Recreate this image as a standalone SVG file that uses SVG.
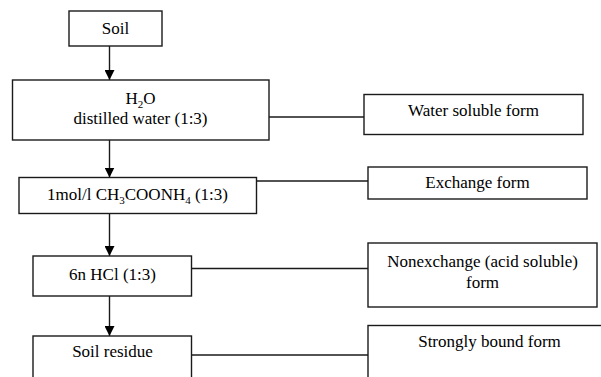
<svg xmlns="http://www.w3.org/2000/svg" width="601" height="377" viewBox="0 0 601 377">
<defs>
<marker id="ah" markerWidth="10" markerHeight="10" refX="10" refY="5" orient="auto" markerUnits="userSpaceOnUse">
<path d="M0,0 L10,5 L0,10 Z" fill="#000"/>
</marker>
<style>
rect{fill:#fff;stroke:#1a1a1a;stroke-width:1.4}
text{font-size:17px;fill:#000;text-anchor:middle}
.c line{stroke:#1a1a1a;stroke-width:1.4}
</style>
</defs>
<rect x="0" y="0" width="601" height="377" style="fill:#fff;stroke:none"/>
<g class="c" id="connectors">
<line x1="109.5" y1="46" x2="109.5" y2="80" marker-end="url(#ah)"/>
<line x1="109.5" y1="140" x2="109.5" y2="177.5" marker-end="url(#ah)"/>
<line x1="109.5" y1="213.5" x2="109.5" y2="256" marker-end="url(#ah)"/>
<line x1="109.5" y1="296" x2="109.5" y2="336" marker-end="url(#ah)"/>
<line x1="269" y1="117" x2="364" y2="117"/>
<line x1="256.5" y1="181" x2="368" y2="181"/>
<line x1="191.5" y1="268.5" x2="368" y2="268.5"/>
<line x1="191.5" y1="355" x2="368" y2="355"/>
</g>
<g font-family="'Liberation Serif', 'Times New Roman', serif">
<g id="soil">
<rect x="69" y="11" width="93" height="35"/>
<text x="115.5" y="34">Soil</text>
</g>
<g id="h2o">
<rect x="12.5" y="80" width="256.5" height="60"/>
<text x="140.5" y="104">H<tspan font-size="11" dy="4">2</tspan><tspan dy="-4">O</tspan></text>
<text x="140.5" y="124">distilled water (1:3)</text>
</g>
<g id="water-soluble">
<rect x="364" y="94.5" width="219" height="40"/>
<text x="473.5" y="116">Water soluble form</text>
</g>
<g id="ch3coonh4">
<rect x="19" y="177.5" width="237.5" height="36"/>
<text x="137.5" y="200">1mol/l CH<tspan font-size="11" dy="4">3</tspan><tspan dy="-4">COONH</tspan><tspan font-size="11" dy="4">4</tspan><tspan dy="-4"> (1:3)</tspan></text>
</g>
<g id="exchange">
<rect x="368" y="167" width="219" height="32"/>
<text x="477.5" y="188">Exchange form</text>
</g>
<g id="hcl">
<rect x="33" y="256" width="158.5" height="40"/>
<text x="112.5" y="280">6n HCl (1:3)</text>
</g>
<g id="nonexchange">
<rect x="368" y="243" width="229" height="64"/>
<text x="482.5" y="267">Nonexchange (acid soluble)</text>
<text x="482.5" y="288">form</text>
</g>
<g id="residue">
<rect x="33" y="336" width="158.5" height="60"/>
<text x="112.5" y="357">Soil residue</text>
</g>
<g id="strongly-bound">
<rect x="368" y="325.5" width="245" height="70"/>
<text x="489.5" y="347">Strongly bound form</text>
</g>
</g>
</svg>
